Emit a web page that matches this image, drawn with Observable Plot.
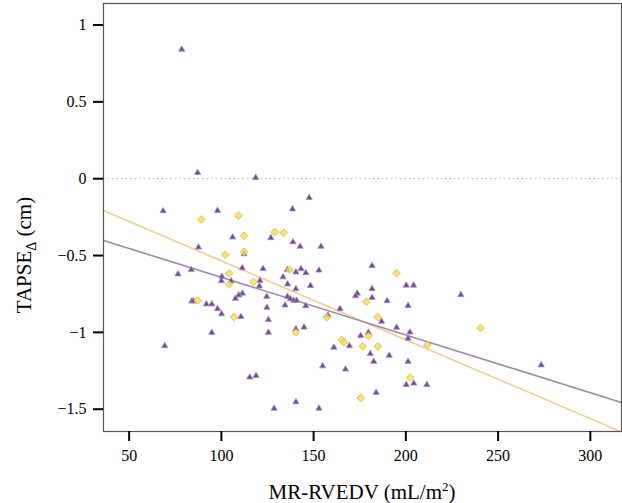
<!DOCTYPE html>
<html><head><meta charset="utf-8">
<script src="https://cdn.jsdelivr.net/npm/d3@7"></script>
<script src="https://cdn.jsdelivr.net/npm/@observablehq/plot@0.6"></script>
<style>body{margin:0;background:#fff}</style>
</head><body><div id="chart"></div>
<script>
// Purple triangles (group 1)
const triX = [78.5,87.1,118.6,147.6,68.4,97.9,138.6,106.1,126.8,138.8,142.7,154.0,87.6,112.3,181.7,111.3,122.6,83.7,76.5,135.7,140.4,143.2,145.8,152.9,100.3,100.0,105.3,120.9,120.6,133.4,135.9,140.4,148.3,200.2,204.2,229.8,173.7,172.7,181.7,181.7,189.8,201.2,164.3,111.4,109.4,107.6,124.6,135.8,137.4,139.2,140.8,84.0,84.9,91.9,94.8,97.9,100.1,110.6,124.7,134.5,145.7,125.5,125.5,94.8,69.3,140.4,144.8,157.8,186.8,195.0,202.2,201.2,175.5,179.7,161.0,169.4,180.7,191.0,182.6,201.2,154.9,167.3,273.4,115.4,118.8,200.2,204.3,211.4,183.9,140.4,128.6,152.9];
const triY = [0.841,0.039,0.007,-0.124,-0.21,-0.208,-0.198,-0.381,-0.385,-0.412,-0.441,-0.441,-0.446,-0.49,-0.567,-0.581,-0.586,-0.593,-0.621,-0.593,-0.608,-0.587,-0.613,-0.596,-0.637,-0.665,-0.666,-0.663,-0.699,-0.64,-0.686,-0.717,-0.696,-0.694,-0.694,-0.756,-0.746,-0.763,-0.717,-0.774,-0.795,-0.826,-0.847,-0.746,-0.758,-0.78,-0.767,-0.767,-0.782,-0.793,-0.793,-0.797,-0.797,-0.816,-0.816,-0.847,-0.88,-0.898,-0.838,-0.823,-0.828,-0.918,-1.001,-1.002,-1.088,-0.978,-0.967,-0.889,-0.929,-0.968,-0.999,-1.039,-1.022,-1.0,-1.098,-1.088,-1.139,-1.15,-1.19,-1.19,-1.219,-1.24,-1.213,-1.292,-1.282,-1.341,-1.331,-1.341,-1.392,-1.453,-1.495,-1.495];
// Yellow diamonds (group 2)
const diaX = [89.1,109.3,112.3,129.0,133.8,102.1,112.3,104.2,104.2,117.4,136.9,87.1,106.8,195.0,178.6,157.1,184.8,140.4,179.7,165.2,166.5,176.6,184.8,211.6,240.4,202.3,175.6];
const diaY = [-0.265,-0.241,-0.371,-0.347,-0.351,-0.495,-0.475,-0.616,-0.689,-0.671,-0.593,-0.793,-0.9,-0.615,-0.801,-0.902,-0.901,-1.001,-1.023,-1.049,-1.064,-1.091,-1.091,-1.082,-0.971,-1.293,-1.427];
// Fitted lines
const lineX = [36.1, 316.9];
const lineYPurple = [-0.402, -1.456];
const lineYYellow = [-0.207, -1.648];
// Ticks
const xTicks = [50, 100, 150, 200, 250, 300];
const yTicks = [-1.5, -1, -0.5, 0, 0.5, 1];
const refY = [0];

const tri = triX.map((x, i) => ({x, y: triY[i]}));
const dia = diaX.map((x, i) => ({x, y: diaY[i]}));
const purpleLine = lineX.map((x, i) => ({x, y: lineYPurple[i]}));
const yellowLine = lineX.map((x, i) => ({x, y: lineYYellow[i]}));
const fmt = d => d < 0 ? "\u2212" + Math.abs(d) : String(d);

const plot = Plot.plot({
  width: 622, height: 503,
  marginLeft: 103, marginTop: 3, marginRight: 1, marginBottom: 72,
  style: {fontFamily: "'Liberation Serif', 'Times New Roman', serif", fontSize: "16px", color: "#000", background: "#fff"},
  x: {domain: [36.1, 316.9]},
  y: {domain: [-1.645, 1.14]},
  marks: [
    Plot.ruleY(refY, {stroke: "#b8a8c0", strokeDasharray: "1.5,3", strokeWidth: 1}),
    Plot.line(yellowLine, {x: "x", y: "y", stroke: "#ebcf93", strokeWidth: 1.6, clip: true}),
    Plot.line(purpleLine, {x: "x", y: "y", stroke: "#9d8ba8", strokeWidth: 1.6, clip: true}),
    Plot.dot(tri, {x: "x", y: "y", symbol: "triangle", r: 2.3, fill: "#6f4b8b", stroke: "#a88cbb", strokeWidth: 0.8}),
    Plot.dot(dia, {x: "x", y: "y", symbol: "diamond2", r: 3.4, fill: "#f3dc63", stroke: "#e2c23f", strokeWidth: 1, fillOpacity: 0.8}),
    Plot.frame({stroke: "#555", strokeWidth: 1.2}),
    Plot.axisX({ticks: xTicks, tickSize: 10, tickPadding: 8, strokeWidth: 2, stroke: "#000", fontSize: 16, label: null}),
    Plot.axisY({ticks: yTicks, tickSize: 10, tickPadding: 7, strokeWidth: 2, stroke: "#000", fontSize: 16, tickFormat: fmt, label: null})
  ]
});

const svg = d3.select(plot);
const ff = "'Liberation Serif', 'Times New Roman', serif";
const yt = svg.append("text")
  .attr("transform", "translate(31,255) rotate(-90)")
  .attr("text-anchor", "middle")
  .attr("font-family", ff).attr("font-size", 21).attr("fill", "#000");
yt.append("tspan").text("TAPSE");
yt.append("tspan").attr("dy", 5).attr("font-size", 14).text("\u0394");
yt.append("tspan").attr("dy", -5).text(" (cm)");

const xt = svg.append("text")
  .attr("x", 362).attr("y", 499)
  .attr("text-anchor", "middle")
  .attr("font-family", ff).attr("font-size", 21).attr("fill", "#000");
xt.append("tspan").text("MR-RVEDV (mL/m");
xt.append("tspan").attr("dy", -8).attr("font-size", 13).text("2");
xt.append("tspan").attr("dy", 8).text(")");

document.getElementById("chart").appendChild(plot);
</script>
</body></html>
